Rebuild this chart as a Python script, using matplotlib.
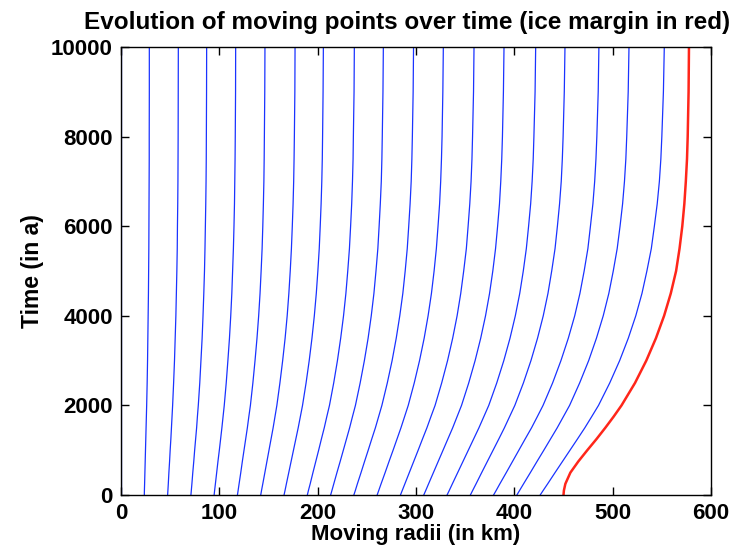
import numpy as np
import matplotlib
matplotlib.use("Agg")
import matplotlib.pyplot as plt

# Time samples (years)
times = [0, 100, 250, 500, 750, 1000, 1250, 1500, 1750, 2000, 2500, 3000,
         3500, 4000, 4500, 5000, 5500, 6000, 6500, 7000, 7500, 8000, 9000, 10000]

p00 = [0.0] * 24
p01 = [23.7, 23.8, 24.0, 24.3, 24.6, 24.9, 25.2, 25.5, 25.8, 26.1, 26.6, 27.0, 27.3, 27.6, 27.9, 28.1, 28.3, 28.4, 28.5, 28.6, 28.7, 28.7, 28.8, 28.8]
p02 = [47.4, 47.7, 48.1, 48.7, 49.4, 50.0, 50.7, 51.3, 51.9, 52.5, 53.5, 54.4, 55.1, 55.8, 56.3, 56.8, 57.2, 57.4, 57.7, 57.9, 58.0, 58.1, 58.2, 58.3]
p03 = [71.1, 71.5, 72.1, 73.0, 74.0, 74.9, 75.9, 76.9, 77.7, 78.6, 80.1, 81.3, 82.5, 83.4, 84.2, 84.9, 85.4, 85.8, 86.2, 86.5, 86.7, 86.8, 87.0, 87.1]
p04 = [94.7, 95.2, 96.0, 97.3, 98.6, 100.0, 101.3, 102.6, 103.8, 105.0, 107.0, 108.7, 110.3, 111.6, 112.7, 113.5, 114.3, 114.9, 115.4, 115.7, 116.0, 116.2, 116.5, 116.6]
p05 = [118.4, 119.1, 120.1, 121.8, 123.4, 125.1, 126.8, 128.5, 130.0, 131.6, 134.1, 136.3, 138.3, 140.0, 141.4, 142.5, 143.5, 144.2, 144.8, 145.3, 145.6, 145.8, 146.2, 146.4]
p06 = [142.1, 142.9, 144.2, 146.3, 148.4, 150.5, 152.6, 154.7, 156.6, 158.5, 161.6, 164.4, 166.9, 169.0, 170.7, 172.1, 173.3, 174.2, 175.0, 175.6, 176.0, 176.3, 176.8, 177.0]
p07 = [165.8, 166.8, 168.2, 170.6, 173.0, 175.4, 177.8, 180.2, 182.4, 184.6, 188.2, 191.4, 194.2, 196.6, 198.6, 200.2, 201.6, 202.6, 203.5, 204.2, 204.7, 205.0, 205.5, 205.8]
p08 = [189.5, 190.6, 192.4, 195.2, 198.1, 201.0, 203.8, 206.7, 209.3, 212.0, 216.3, 220.1, 223.4, 226.3, 228.7, 230.6, 232.3, 233.5, 234.6, 235.4, 236.0, 236.3, 237.0, 237.3]
p09 = [213.2, 214.5, 216.4, 219.6, 222.9, 226.1, 229.3, 232.5, 235.4, 238.4, 243.2, 247.5, 251.3, 254.5, 257.2, 259.3, 261.2, 262.5, 263.7, 264.7, 265.3, 265.7, 266.4, 266.8]
p10 = [236.8, 238.3, 240.4, 244.1, 247.7, 251.4, 255.0, 258.7, 262.0, 265.3, 270.8, 275.7, 279.9, 283.5, 286.6, 289.0, 291.1, 292.6, 294.0, 295.1, 295.8, 296.3, 297.1, 297.5]
p11 = [260.5, 262.1, 264.5, 268.6, 272.6, 276.7, 280.7, 284.7, 288.4, 292.1, 298.2, 303.6, 308.3, 312.3, 315.7, 318.4, 320.7, 322.4, 324.0, 325.1, 325.9, 326.5, 327.3, 327.8]
p12 = [284.2, 286.0, 288.7, 293.2, 297.7, 302.2, 306.6, 311.1, 315.2, 319.4, 326.1, 332.1, 337.3, 341.8, 345.5, 348.5, 351.2, 353.0, 354.7, 356.0, 356.9, 357.5, 358.5, 359.0]
p13 = [307.9, 309.9, 312.8, 317.7, 322.6, 327.5, 332.4, 337.3, 341.8, 346.3, 353.6, 360.1, 365.8, 370.7, 374.8, 378.1, 380.9, 383.0, 384.9, 386.2, 387.2, 387.9, 388.9, 389.5]
p14 = [331.6, 333.8, 337.0, 342.4, 347.8, 353.2, 358.6, 364.0, 369.0, 374.0, 382.1, 389.3, 395.6, 401.0, 405.5, 409.1, 412.2, 414.5, 416.6, 418.1, 419.2, 419.9, 421.1, 421.7]
p15 = [355.3, 357.6, 361.1, 366.8, 372.6, 378.4, 384.2, 389.9, 395.2, 400.5, 409.2, 416.9, 423.6, 429.4, 434.2, 438.0, 441.4, 443.8, 446.0, 447.7, 448.8, 449.6, 450.8, 451.5]
p16 = [378.9, 381.5, 385.3, 391.8, 398.2, 404.6, 411.0, 417.5, 423.4, 429.2, 438.9, 447.4, 454.9, 461.4, 466.7, 471.0, 474.8, 477.4, 479.9, 481.7, 483.0, 483.9, 485.3, 486.0]
p17 = [402.6, 405.3, 409.4, 416.3, 423.1, 430.0, 436.8, 443.6, 449.9, 456.2, 466.4, 475.6, 483.5, 490.4, 496.1, 500.6, 504.6, 507.5, 510.1, 512.0, 513.4, 514.3, 515.8, 516.6]
p18 = [426.3, 429.3, 433.9, 441.4, 449.0, 456.6, 464.2, 471.7, 478.7, 485.6, 497.0, 507.1, 515.9, 523.5, 529.8, 534.8, 539.3, 542.4, 545.3, 547.5, 549.0, 550.0, 551.6, 552.5]
# Ice margin
margin = [450.0, 450.4, 451.9, 457.0, 465.1, 474.2, 483.6, 492.5, 501.0, 509.0, 522.7, 534.2, 544.0, 552.3, 559.1, 564.5, 568.0, 570.8, 572.9, 574.4, 575.6, 576.3, 577.2, 577.6]

blue_points = [p00, p01, p02, p03, p04, p05, p06, p07, p08, p09,
               p10, p11, p12, p13, p14, p15, p16, p17, p18]

xticks = [0, 100, 200, 300, 400, 500, 600]
yticks = [0, 2000, 4000, 6000, 8000, 10000]

plt.rcParams['font.family'] = ['Liberation Sans', 'DejaVu Sans']
plt.rcParams['font.weight'] = 'bold'

fig = plt.figure(figsize=(7.48, 5.51), dpi=100)
ax = fig.add_axes([121/748, 56/551, 590/748, 448/551])

for p in blue_points:
    ax.plot(p, times, color=(0.1, 0.2, 1.0), lw=0.9)
ax.plot(margin, times, color=(1.0, 0.15, 0.1), lw=1.8)

ax.set_xlim(0, 600)
ax.set_ylim(0, 10000)
ax.set_xticks(xticks)
ax.set_yticks(yticks)
ax.set_xticklabels([str(v) for v in xticks], fontsize=16, fontweight='bold')
ax.set_yticklabels([str(v) for v in yticks], fontsize=16, fontweight='bold')
ax.tick_params(axis='x', direction='in', length=6, width=1.0, top=True, pad=6)
ax.tick_params(axis='y', direction='in', length=6, width=1.0, right=True, pad=6)
for s in ax.spines.values():
    s.set_linewidth(1.0)

ax.set_xlabel('Moving radii (in km)', fontsize=16, fontweight='bold', labelpad=0)
ax.set_ylabel('Time (in a)', fontsize=16.5, fontweight='bold', labelpad=5)
ax.set_title('Evolution of moving points over time (ice margin in red)',
             fontsize=17.5, fontweight='bold', pad=13, x=0.485)

fig.savefig('out.png', dpi=100)
